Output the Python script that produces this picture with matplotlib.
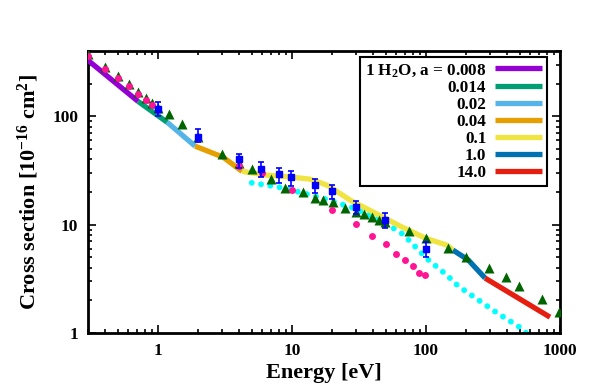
import matplotlib
matplotlib.use("Agg")
import matplotlib.pyplot as plt
from matplotlib.ticker import FixedLocator, FixedFormatter, LogLocator, NullFormatter

plt.rcParams["font.family"] = ["Liberation Serif", "DejaVu Serif"]
plt.rcParams["font.weight"] = "bold"
plt.rcParams["mathtext.fontset"] = "custom"
plt.rcParams["mathtext.rm"] = "Liberation Serif:bold"
plt.rcParams["mathtext.it"] = "Liberation Serif:bold"
plt.rcParams["mathtext.bf"] = "Liberation Serif:bold"
plt.rcParams["mathtext.default"] = "rm"

# model curves, one per cluster size parameter a
seg_labels = ["1 H$_2$O, a = 0.008", "0.014", "0.02", "0.04", "0.1", "1.0", "14.0"]
seg_colors = ["#9400d3", "#009e73", "#56b4e9", "#e69f00", "#f0e442", "#0072b2", "#e51e10"]
seg_e = [
    [0.3, 0.71],
    [0.71, 1.17],
    [1.17, 1.89],
    [1.89, 3.06, 4.24],
    [4.24, 6.5, 10, 13.6, 18.3, 27.2, 47.9, 64, 100, 143, 159],
    [159, 207, 276],
    [276, 842],
]
seg_sigma = [
    [328, 137],
    [137, 88],
    [88, 53],
    [53, 41.9, 31],
    [31, 28.6, 27.4, 26.3, 23.1, 16.8, 11.7, 9.7, 7.46, 6.47, 5.82],
    [5.82, 4.71, 3.21],
    [3.21, 1.40],
]

# triangles (dark green)
tri_e = [0.3, 0.4, 0.5, 0.61, 0.71, 0.81, 0.9, 1.0, 1.21, 1.51, 1.99, 3.0, 4.0, 5.0, 7.0,
         8.9, 12.1, 14.9, 17.1, 20.2, 24.9, 30.0, 34.5, 39.5, 44.5, 49.5, 74.5, 99.3, 145,
         199, 295, 394, 495, 734, 983]
tri_sigma = [373, 283, 234, 197, 166, 146, 132, 119, 104, 84, 64, 44.7, 36.9, 32.5, 26.3,
             21.7, 19.9, 17.5, 16.8, 16.1, 14.2, 13.0, 12.5, 11.7, 11.0, 10.5, 8.7, 7.5, 6.07,
             5.02, 3.97, 3.28, 2.71, 2.06, 1.56]

# pink dots
pink_e = [0.3, 0.4, 0.5, 0.61, 0.71, 0.81, 0.9, 1.0, 2.0, 4.0, 6.0, 10, 20, 30, 39.5, 50,
          59.5, 70, 80, 88.5, 99]
pink_sigma = [360, 272, 225, 190, 160, 141, 127, 113, 62, 35, 29.8, 20.8, 13.6, 10.1, 7.8,
              6.6, 5.33, 4.71, 4.15, 3.57, 3.42]

# cyan dotted curve
cyan_e = [5.0, 7.82, 12.0, 18.1, 27.9, 44.6, 67, 103, 143, 174, 337, 518, 560]
cyan_sigma = [24.3, 22.3, 19.6, 17.1, 14.4, 11.2, 8.2, 4.78, 3.42, 2.71, 1.54, 1.10, 1.0]

# measurements with error bars
exp_e = [1.0, 2.0, 4.0, 5.9, 8.0, 9.9, 14.8, 20.0, 29.9, 49.3, 99.3]
exp_sigma = [116, 64.5, 39.9, 32.5, 29.2, 27.6, 23.1, 20.5, 14.4, 11.0, 5.91]
exp_lo = [100, 58, 33.3, 27.6, 24.3, 22.6, 19.6, 17.4, 12.4, 9.4, 5.05]
exp_hi = [135, 75.5, 45.1, 37.7, 33.4, 31.0, 26.5, 23.4, 16.6, 12.8, 6.95]

fig = plt.figure(figsize=(5.92, 3.87), dpi=100)
ax = fig.add_axes([88 / 592, 1 - 333 / 387, 472 / 592, 282 / 387])

ax.plot(cyan_e, cyan_sigma, color="cyan", lw=4.2, linestyle=(0, (0.01, 1.6)),
        dash_capstyle="round", zorder=2)
for e, s, c, lab in zip(seg_e, seg_sigma, seg_colors, seg_labels):
    ax.plot(e, s, color=c, lw=3.8, label=lab, solid_capstyle="butt", zorder=3)
ax.plot(tri_e, tri_sigma, "^", color="#006400", ms=6.5, mec="none", zorder=4)
ax.plot(pink_e, pink_sigma, "o", color="#ff1493", ms=5, mec="none", zorder=5)
err = [[s - lo for s, lo in zip(exp_sigma, exp_lo)], [hi - s for s, hi in zip(exp_sigma, exp_hi)]]
ax.errorbar(exp_e, exp_sigma, yerr=err, fmt="s", color="#0000ff", ms=4.5, capsize=2.5,
            elinewidth=1.2, capthick=1.2, zorder=6)

ax.set_xscale("log")
ax.set_yscale("log")
ax.set_xlim(0.3, 1000)
ax.set_ylim(1, 400)

ax.xaxis.set_major_locator(FixedLocator([1, 10, 100, 1000]))
ax.xaxis.set_major_formatter(FixedFormatter(["1", "10", "100", "1000"]))
ax.yaxis.set_major_locator(FixedLocator([1, 10, 100]))
ax.yaxis.set_major_formatter(FixedFormatter(["1", "10", "100"]))
for axis in (ax.xaxis, ax.yaxis):
    axis.set_minor_locator(LogLocator(base=10, subs=range(2, 10)))
    axis.set_minor_formatter(NullFormatter())
ax.tick_params(which="both", direction="in", top=True, right=True, width=1.2,
               labelsize=12.5, pad=7)
ax.tick_params(which="major", length=6)
ax.tick_params(which="minor", length=3)
for sp in ax.spines.values():
    sp.set_linewidth(2)

ax.set_xlabel("Energy [eV]", fontsize=16, fontweight="bold")
ax.set_ylabel("Cross section [10$^{-16}$ cm$^2$]", fontsize=16, fontweight="bold")
ax.xaxis.set_label_coords(0.5, -0.105)
ax.yaxis.set_label_coords(-0.1, 0.5)

leg = ax.legend(loc="upper right", bbox_to_anchor=(0.9725, 0.979), borderaxespad=0,
                markerfirst=False, fontsize=12.3, handlelength=2.75, handletextpad=0.5,
                labelspacing=0.06, fancybox=False, edgecolor="black", framealpha=1,
                borderpad=0.3)
leg.get_frame().set_linewidth(1.5)
for col in leg._legend_handle_box.get_children():
    col.align = "right"

fig.savefig("out.png", dpi=100)
